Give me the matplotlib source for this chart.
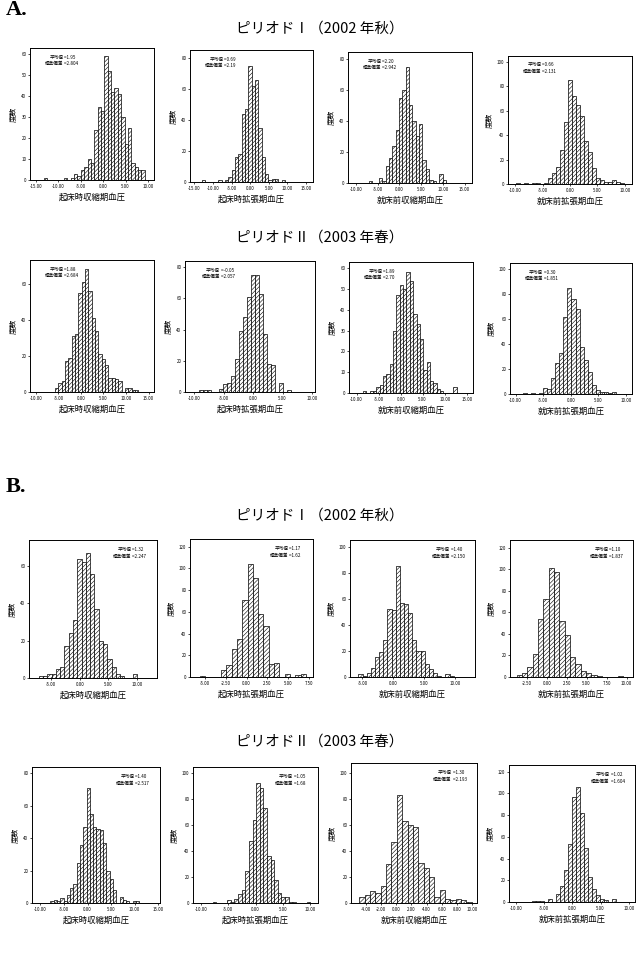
"""Recreated figure: histograms of blood-pressure differences, groups A and B."""

import numpy as np
import matplotlib

matplotlib.use("Agg")
import matplotlib.pyplot as plt

plt.rcParams["font.family"] = ["Noto Sans CJK JP", "DejaVu Sans"]
plt.rcParams["hatch.linewidth"] = 0.4

# ---------------------------------------------------------------- data
XLABELS = ["起床時収縮期血圧", "起床時拡張期血圧", "就床前収縮期血圧", "就床前拡張期血圧"]
PERIOD_TITLES = ["ピリオドⅠ（2002 年秋）", "ピリオドⅡ（2003 年春）"]
GROUP_LABELS = ["A.", "B."]

# group A, period I
a1_starts = [-13.25, -14.0, -7.0, -9.92]
a1_widths = [0.75, 0.9, 0.77, 0.73]
a1_means = ["1.95", "0.69", "2.20", "0.66"]
a1_sds = ["2.804", "2.19", "2.942", "2.131"]
a1_sbp_wake = [1, 0, 0, 0, 0, 0, 1, 0, 1, 3, 2, 5, 6, 10, 8, 24, 35, 33, 59, 52,
               42, 44, 41, 30, 17, 25, 8, 6, 5, 5]
a1_dbp_wake = [0, 1, 0, 0, 0, 0, 1, 0, 1, 3, 8, 16, 18, 44, 47, 75, 62, 66, 35, 16,
               5, 1, 2, 2, 0, 1]
a1_sbp_bed = [1, 0, 0, 3, 1, 11, 16, 24, 34, 55, 60, 75, 50, 40, 30, 38, 15, 9, 2, 1,
              0, 6, 2]
a1_dbp_bed = [1, 0, 1, 0, 1, 1, 0, 1, 5, 9, 14, 28, 51, 85, 72, 65, 56, 35, 26, 13,
              5, 3, 2, 2, 3, 2, 1]

# group A, period II
a2_starts = [-5.78, -9.88, -8.56, -8.62]
a2_widths = [0.74, 0.68, 0.76, 0.73]
a2_means = ["1.88", "-0.05", "1.89", "0.30"]
a2_sds = ["2.684", "2.057", "2.70", "1.851"]
a2_sbp_wake = [2, 5, 6, 17, 19, 31, 32, 55, 61, 68, 56, 41, 34, 21, 18, 15, 8, 8, 7, 6,
               0, 2, 2, 1, 1]
a2_dbp_wake = [0, 1, 1, 1, 0, 0, 2, 5, 6, 10, 21, 39, 48, 61, 75, 75, 63, 37, 18, 17,
               0, 6, 0, 1]
a2_sbp_bed = [1, 0, 1, 1, 3, 4, 8, 9, 14, 30, 47, 52, 50, 58, 54, 38, 33, 26, 11, 15,
              6, 5, 2, 1, 0, 0, 0, 3]
a2_dbp_bed = [1, 0, 1, 0, 1, 5, 4, 13, 25, 33, 62, 85, 76, 68, 38, 27, 18, 7, 3, 2,
              2, 1, 2]

# group B, period I
b1_starts = [-7.2, -5.64, -5.65, -3.75]
b1_widths = [0.75, 0.64, 0.67, 0.667]
b1_means = ["1.32", "1.17", "1.40", "1.10"]
b1_sds = ["2.247", "1.62", "2.150", "1.837"]
b1_sbp_wake = [1, 1, 2, 2, 5, 6, 17, 24, 31, 64, 62, 67, 56, 37, 20, 18, 10, 6, 2, 1,
               0, 0, 2]
b1_dbp_wake = [1, 0, 0, 0, 6, 11, 26, 35, 71, 104, 91, 58, 47, 12, 13, 0, 3, 0, 2, 3]
b1_sbp_bed = [2, 1, 3, 7, 15, 19, 28, 52, 51, 85, 57, 56, 49, 28, 20, 20, 10, 6, 3, 1,
              0, 2, 1]
b1_dbp_bed = [2, 4, 9, 21, 54, 72, 101, 97, 52, 39, 19, 12, 6, 4, 2, 1, 0, 0, 0, 1]

# group B, period II
b2_starts = [-7.9, -7.8, -4.8, -7.16]
b2_widths = [0.7, 0.66, 0.7, 0.71]
b2_means = ["1.40", "1.05", "1.30", "1.02"]
b2_sds = ["2.517", "1.68", "2.193", "1.604"]
b2_sbp_wake = [1, 2, 1, 3, 1, 5, 9, 12, 25, 36, 47, 71, 55, 47, 46, 45, 37, 20, 15, 8,
               0, 4, 2, 1, 0, 1, 1]
b2_dbp_wake = [1, 0, 0, 0, 2, 1, 3, 7, 10, 25, 48, 64, 93, 89, 73, 36, 33, 18, 8, 5,
               5, 1, 1, 0, 0, 0, 1]
b2_sbp_bed = [5, 6, 9, 8, 13, 30, 47, 83, 63, 60, 59, 31, 27, 20, 5, 10, 3, 2, 3, 2, 1]
b2_dbp_bed = [1, 1, 1, 0, 3, 0, 7, 15, 29, 53, 97, 106, 82, 50, 23, 12, 6, 3, 2, 0, 3]

# ---------------------------------------------------------------- layout
W, H = 638, 958

# panel boxes in pixels: (left, top, right, bottom)
a1_boxes = [(30, 48, 154, 180), (190, 50, 313, 182), (348, 52, 472, 183), (508, 56, 632, 184)]
a2_boxes = [(30, 260, 154, 392), (185, 261, 315, 392), (349, 262, 473, 393), (510, 263, 632, 394)]
b1_boxes = [(29, 540, 157, 678), (190, 539, 313, 677), (350, 540, 475, 677), (510, 540, 633, 677)]
b2_boxes = [(32, 767, 160, 903), (193, 767, 318, 903), (351, 763, 477, 903), (509, 765, 635, 902)]

a1_xlims = [(-16.3, 11.3), (-16.2, 16.9), (-11.8, 16.7), (-11.3, 11.3)]
a2_xlims = [(-11.3, 16.2), (-11.6, 10.5), (-11.7, 16.4), (-11.0, 11.1)]
b1_xlims = [(-8.9, 13.5), (-6.8, 8.0), (-7.0, 13.2), (-4.6, 10.8)]
b2_xlims = [(-11.8, 15.4), (-11.4, 11.4), (-5.9, 10.6), (-11.2, 11.1)]

a1_xticks = [np.arange(-15, 11, 5), np.arange(-15, 16, 5), np.arange(-10, 16, 5), np.arange(-10, 11, 5)]
a2_xticks = [np.arange(-10, 16, 5), np.arange(-10, 11, 5), np.arange(-10, 16, 5), np.arange(-10, 11, 5)]
b1_xticks = [np.arange(-5, 11, 5), np.arange(-5, 8, 2.5), np.arange(-5, 11, 5), np.arange(-2.5, 11, 2.5)]
b2_xticks = [np.arange(-10, 16, 5), np.arange(-10, 11, 5), np.arange(-4, 11, 2), np.arange(-10, 11, 5)]

a1_ylims = [(63, 10), (85, 20), (84.5, 20), (105, 20)]
a2_ylims = [(73, 20), (84, 20), (63, 10), (105, 20)]
b1_ylims = [(74, 20), (127, 20), (105, 20), (127, 20)]
b2_ylims = [(84, 20), (105, 20), (108, 20), (126, 20)]


def draw_panel(fig, box, counts, start, width, xlim, xticks, ylim, xlabel,
               mean, sd, stats_right):
    left, top, right, bottom = box
    ax = fig.add_axes([left / W, 1 - bottom / H, (right - left) / W, (bottom - top) / H])
    counts = np.asarray(counts, dtype=float)
    edges = start + width * np.arange(len(counts))
    ax.bar(edges, counts, width=width, align="edge", color="white",
           edgecolor="black", hatch="////////", linewidth=0.5)
    ax.set_xlim(*xlim)
    ytop, ystep = ylim
    ax.set_ylim(0, ytop)
    ax.set_xticks(xticks)
    ax.set_xticklabels([f"{t:.2f}" for t in xticks])
    ax.set_yticks(np.arange(0, ytop + 0.01, ystep))
    ax.tick_params(direction="out", length=1.6, width=0.5, labelsize=3.2, pad=1)
    for sp in ax.spines.values():
        sp.set_linewidth(0.7)
    ax.set_xlabel(xlabel, fontsize=6, labelpad=3)
    ax.set_ylabel("度数", fontsize=5.5, labelpad=3)

    xs = 0.80 if stats_right else 0.27
    ax.text(xs, 0.93, "平均値", transform=ax.transAxes, ha="right", va="center", fontsize=3.3)
    ax.text(xs, 0.93, f" ={mean}", transform=ax.transAxes, ha="left", va="center", fontsize=3.3)
    ax.text(xs, 0.88, "標準偏差", transform=ax.transAxes, ha="right", va="center", fontsize=3.3)
    ax.text(xs, 0.88, f" ={sd}", transform=ax.transAxes, ha="left", va="center", fontsize=3.3)
    return ax


fig = plt.figure(figsize=(W / 100, H / 100), dpi=100)

rows = [
    (a1_boxes, [a1_sbp_wake, a1_dbp_wake, a1_sbp_bed, a1_dbp_bed], a1_starts, a1_widths,
     a1_xlims, a1_xticks, a1_ylims, a1_means, a1_sds, False),
    (a2_boxes, [a2_sbp_wake, a2_dbp_wake, a2_sbp_bed, a2_dbp_bed], a2_starts, a2_widths,
     a2_xlims, a2_xticks, a2_ylims, a2_means, a2_sds, False),
    (b1_boxes, [b1_sbp_wake, b1_dbp_wake, b1_sbp_bed, b1_dbp_bed], b1_starts, b1_widths,
     b1_xlims, b1_xticks, b1_ylims, b1_means, b1_sds, True),
    (b2_boxes, [b2_sbp_wake, b2_dbp_wake, b2_sbp_bed, b2_dbp_bed], b2_starts, b2_widths,
     b2_xlims, b2_xticks, b2_ylims, b2_means, b2_sds, True),
]

for boxes, series, starts, widths, xlims, xticks, ylims, means, sds, right in rows:
    for i in range(4):
        draw_panel(fig, boxes[i], series[i], starts[i], widths[i], xlims[i], xticks[i],
                   ylims[i], XLABELS[i], means[i], sds[i], right)

# period titles and group letters
for y_px, title in [(29, PERIOD_TITLES[0]), (238, PERIOD_TITLES[1]),
                    (516, PERIOD_TITLES[0]), (742, PERIOD_TITLES[1])]:
    fig.text(320 / W, 1 - y_px / H, title, ha="center", va="center", fontsize=10.5)

fig.text(6 / W, 1 - 10 / H, GROUP_LABELS[0], ha="left", va="center", fontsize=16,
         fontweight="bold", family="Liberation Serif")
fig.text(6 / W, 1 - 487 / H, GROUP_LABELS[1], ha="left", va="center", fontsize=16,
         fontweight="bold", family="Liberation Serif")

fig.savefig("out.png", dpi=100, facecolor="white")
